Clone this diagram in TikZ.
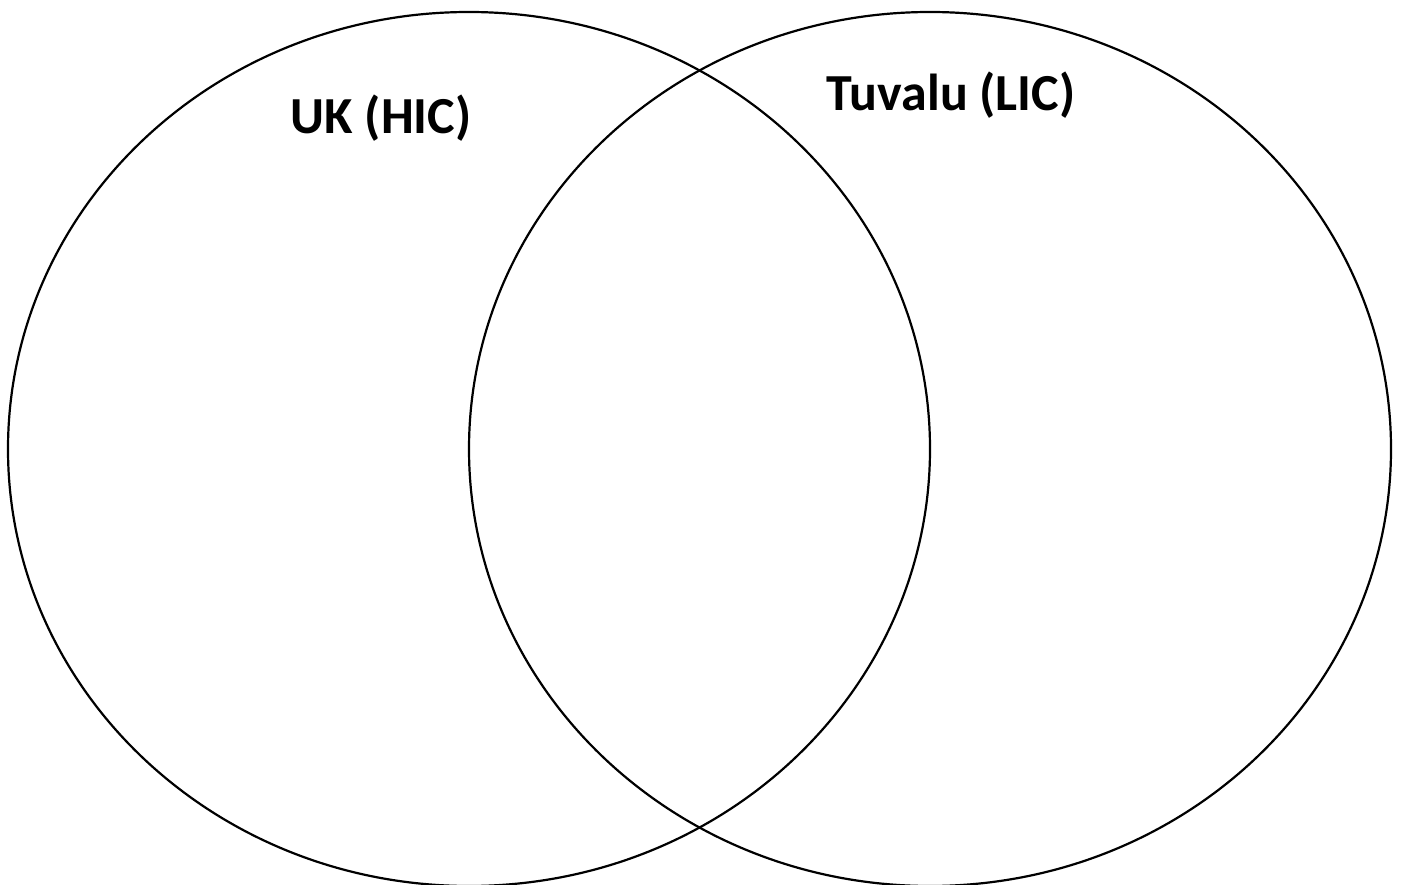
\documentclass[tikz,border=0pt]{standalone}
\usepackage{fontspec}
\setmainfont{Carlito}
\begin{document}
\begin{tikzpicture}[x={1pt},y={1pt},circ/.style={draw,line width=2.2pt},lbl/.style={font=\fontsize{52}{58}\selectfont\bfseries}]
\useasboundingbox(0,0)rectangle(1402,884);
\draw[circ](469,435)ellipse[x radius=461,y radius=437];
\draw[circ](930,435)ellipse[x radius=461,y radius=437];
\node[lbl](uk)at(381,766){UK (HIC)};
\node[lbl](tuvalu)at(951,789){Tuvalu (LIC)};
\end{tikzpicture}
\end{document}
